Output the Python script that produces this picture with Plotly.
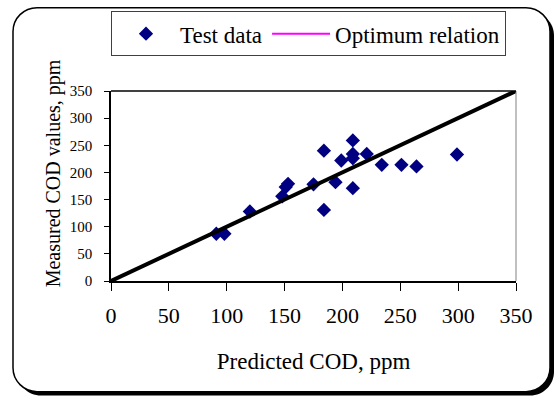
import plotly.graph_objects as go

# Data
predicted = [91, 98, 120, 148, 151, 153, 175, 184, 184, 194, 199, 209, 209, 209, 209, 221, 234, 251, 264, 299]
measured = [87, 87, 128, 156, 173, 179, 178, 240, 131, 182, 222, 259, 234, 226, 171, 234, 214, 214, 211, 233]
optimum_x = [0, 350]
optimum_y = [0, 350]
tick_vals = [0, 50, 100, 150, 200, 250, 300, 350]

FONT = "Liberation Serif, Times New Roman, serif"
WIDTH, HEIGHT = 558, 401
L, R, T, B = 111, 516, 90, 281.5
PW, PH = R - L, B - T


def px2paper(px, py):
    return (px - L) / PW, (B - py) / PH


def rounded_rect(x0, y0, x1, y1, r):
    k = 0.5523 * r
    def p(x, y):
        a, b = px2paper(x, y)
        return f"{a:.5f},{b:.5f}"
    return (
        f"M {p(x0 + r, y0)} L {p(x1 - r, y0)} "
        f"C {p(x1 - r + k, y0)} {p(x1, y0 + r - k)} {p(x1, y0 + r)} "
        f"L {p(x1, y1 - r)} "
        f"C {p(x1, y1 - r + k)} {p(x1 - r + k, y1)} {p(x1 - r, y1)} "
        f"L {p(x0 + r, y1)} "
        f"C {p(x0 + r - k, y1)} {p(x0, y1 - r + k)} {p(x0, y1 - r)} "
        f"L {p(x0, y0 + r)} "
        f"C {p(x0, y0 + r - k)} {p(x0 + r - k, y0)} {p(x0 + r, y0)} Z"
    )


fig = go.Figure()
fig.add_trace(go.Scatter(
    x=predicted, y=measured, mode="markers", name="Test data",
    marker=dict(symbol="diamond", size=11, color="#000080", line=dict(width=0)),
))
fig.add_trace(go.Scatter(
    x=optimum_x, y=optimum_y, mode="lines", name="Optimum relation",
    line=dict(color="black", width=4), showlegend=False,
))
fig.add_trace(go.Scatter(
    x=[None], y=[None], mode="lines", name="Optimum relation",
    line=dict(color="#ff00ff", width=2),
))

shapes = [
    dict(type="path", xref="paper", yref="paper", layer="below",
         path=rounded_rect(17, 10, 554, 397, 24),
         fillcolor="black", line=dict(width=0)),
    dict(type="path", xref="paper", yref="paper", layer="below",
         path=rounded_rect(13, 6, 550, 393, 24),
         fillcolor="white", line=dict(color="black", width=1.5)),
    dict(type="line", xref="paper", yref="paper", x0=1, x1=1, y0=0, y1=1,
         line=dict(color="#808080", width=1)),
    dict(type="line", xref="paper", yref="paper", x0=0, x1=1, y0=1, y1=1,
         line=dict(color="black", width=1.5)),
]

ytx, yty = px2paper(53, 173)

fig.update_layout(
    width=WIDTH, height=HEIGHT,
    margin=dict(l=L, r=WIDTH - R, t=T, b=HEIGHT - B, pad=0),
    paper_bgcolor="white", plot_bgcolor="white",
    font=dict(family=FONT, color="black"),
    shapes=shapes,
    showlegend=True,
    legend=dict(
        orientation="h", x=0, y=px2paper(0, 11)[1], xanchor="left", yanchor="top",
        bordercolor="#404040", borderwidth=1, bgcolor="white",
        font=dict(family=FONT, size=23, color="black"),
        itemwidth=58,
    ),
    xaxis=dict(
        range=[0, 350], tickvals=tick_vals, ticktext=[str(v) for v in tick_vals],
        showgrid=False, zeroline=False, showline=True, linecolor="black", linewidth=1.5,
        ticks="outside", ticklen=8, tickcolor="black", ticklabelstandoff=6,
        tickfont=dict(family=FONT, size=22),
        title=dict(text="Predicted COD, ppm", font=dict(family=FONT, size=23), standoff=26),
    ),
    yaxis=dict(
        range=[0, 350], tickvals=tick_vals, ticktext=[str(v) for v in tick_vals],
        showgrid=False, zeroline=False, showline=True, linecolor="black", linewidth=1.5,
        ticks="outside", ticklen=5, tickcolor="black", ticklabelstandoff=9,
        tickfont=dict(family=FONT, size=15),
    ),
    annotations=[dict(
        text="Measured COD values, ppm", xref="paper", yref="paper",
        x=ytx, y=yty, xanchor="center", yanchor="middle", textangle=-90,
        showarrow=False, font=dict(family=FONT, size=20, color="black"),
    )],
)

fig.write_html("out.html")
